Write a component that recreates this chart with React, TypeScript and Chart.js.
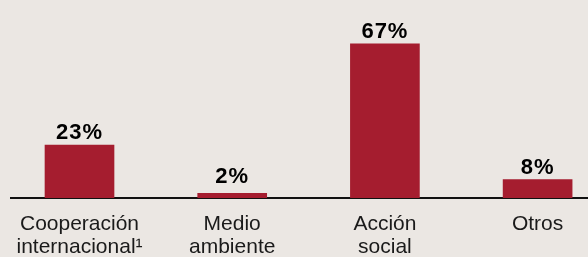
import React, { useEffect, useRef } from 'react';
import { Chart, registerables } from 'chart.js';

Chart.register(...registerables);

const categories: string[][] = [
  ['Cooperación', 'internacional¹'],
  ['Medio', 'ambiente'],
  ['Acción', 'social'],
  ['Otros'],
];
const values: number[] = [23, 2, 67, 8];
const valueLabels: string[] = ['23%', '2%', '67%', '8%'];
const positions: number[] = [0, 1, 2, 3];

const BG = '#ebe7e3';
const BAR = '#a51d2f';
const FONT = '"Liberation Sans", Arial, Helvetica, sans-serif';

export default function App() {
  const ref = useRef<HTMLCanvasElement | null>(null);

  useEffect(() => {
    if (!ref.current) return;
    const labelPlugin = {
      id: 'valueLabels',
      afterDatasetsDraw(chart: any) {
        const ctx = chart.ctx;
        const meta = chart.getDatasetMeta(0);
        const base = chart.scales.y.getPixelForValue(0);
        ctx.save();
        ctx.font = `bold 22px ${FONT}`;
        try { (ctx as any).letterSpacing = '1px'; } catch (e) {}
        ctx.fillStyle = '#000';
        ctx.textAlign = 'center';
        ctx.textBaseline = 'alphabetic';
        meta.data.forEach((bar: any, i: number) => {
          const y = Math.min(bar.y - 6, base - 15);
          ctx.fillText(valueLabels[i], bar.x, y);
        });
        ctx.restore();
      },
    };

    const chart = new Chart(ref.current, {
      type: 'bar',
      data: {
        datasets: [
          {
            data: positions.map((x, i) => ({ x, y: values[i] })),
            backgroundColor: BAR,
            barThickness: 69,
            borderWidth: 0,
          },
        ],
      },
      options: {
        animation: false,
        responsive: false,
        maintainAspectRatio: false,
        layout: { padding: { left: 11, right: 0, top: 0, bottom: 0 } },
        plugins: { legend: { display: false }, tooltip: { enabled: false } },
        scales: {
          x: {
            type: 'linear',
            min: -0.4486,
            max: 3.33,
            offset: false,
            grid: { display: false, drawTicks: false },
            border: { display: true, color: '#111', width: 2 },
            afterBuildTicks: (scale: any) => {
              scale.ticks = positions.map((v) => ({ value: v }));
            },
            afterFit: (scale: any) => {
              scale.height = 59;
            },
            ticks: {
              autoSkip: false,
              maxRotation: 0,
              minRotation: 0,
              padding: 15,
              color: '#1a1a1a',
              font: { family: FONT, size: 21, lineHeight: 1.1 },
              callback: (v: any) => categories[Math.round(Number(v))] ?? '',
            },
          },
          y: {
            display: false,
            min: 0,
            max: 86,
          },
        },
      },
      plugins: [labelPlugin],
    });
    return () => chart.destroy();
  }, []);

  return (
    <div style={{ position: 'fixed', left: 0, top: 0, width: 588, height: 257, background: BG }}>
      <canvas ref={ref} width={588} height={257} style={{ display: 'block' }} />
    </div>
  );
}
